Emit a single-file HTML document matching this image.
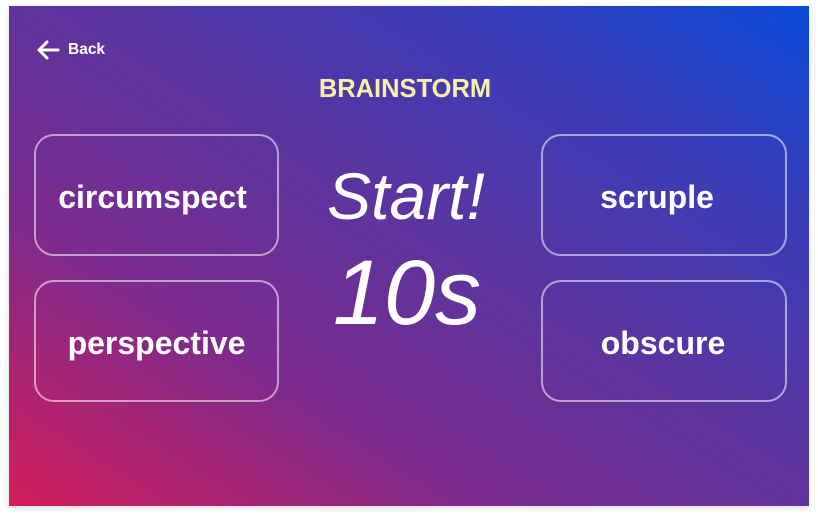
<!DOCTYPE html>
<html><head><style>
html,body{margin:0;padding:0;background:#fff;width:818px;height:518px;overflow:hidden;font-family:"Liberation Sans",Arial,sans-serif}
.card{position:absolute;left:9px;top:6px;width:800px;height:500px;background:linear-gradient(to top right,#d41d5a 0%,#7c2b8e 30%,#5a35a0 55%,#3a3cb8 78%,#0a4ad8 100%);box-shadow:0 2px 6px rgba(0,0,0,0.15)}
.back{position:absolute;left:36px;top:40px;color:#fff;font-weight:bold;font-size:15.5px;display:flex;align-items:center}
.title{position:absolute;left:0;width:818px;top:75px;text-align:center;color:#f6f0a8;font-weight:bold;font-size:25.5px;margin-left:-4px}
.box{position:absolute;border:2px solid rgba(255,255,255,0.55);border-radius:20px;color:#fff;font-weight:bold;font-size:32px;display:flex;align-items:center;justify-content:center;box-sizing:border-box;padding-top:4px}
.big{position:absolute;color:#fff;font-style:italic;text-align:center;width:818px;left:0}
</style></head><body>
<div class="card"></div>
<div class="back"><svg width="24" height="20" viewBox="0 0 24 20" style="margin-right:8px"><path d="M11 2 L3 10 L11 18 M3 10 L22 10" stroke="#fff" stroke-width="3" fill="none" stroke-linecap="round" stroke-linejoin="round"/></svg>Back</div>
<div class="title">BRAINSTORM</div>
<div class="box" style="left:34px;top:134px;width:245px;height:122px;padding-right:8px">circumspect</div>
<div class="box" style="left:34px;top:280px;width:245px;height:122px">perspective</div>
<div class="box" style="left:541px;top:134px;width:246px;height:122px;padding-right:14px">scruple</div>
<div class="box" style="left:541px;top:280px;width:246px;height:122px;padding-right:2px">obscure</div>
<div class="big" style="top:158px;font-size:66px;margin-left:-3px">Start!</div>
<div class="big" style="top:241px;font-size:92px;margin-left:-2px">10s</div>
</body></html>
